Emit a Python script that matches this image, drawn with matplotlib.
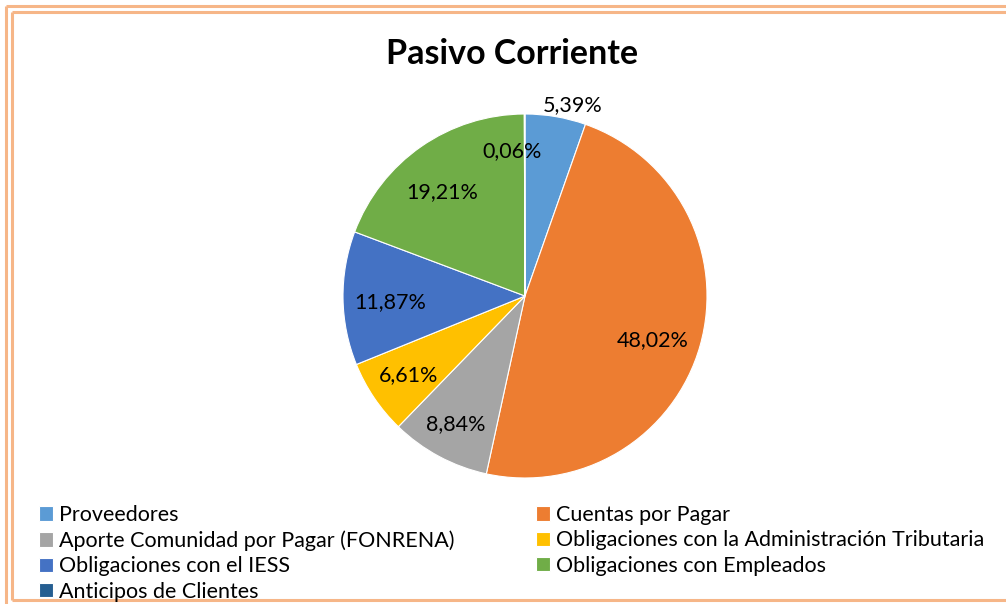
import matplotlib.pyplot as plt
from matplotlib.lines import Line2D
import numpy as np

# Daten
categorias = ["Proveedores", "Cuentas por Pagar", "Aporte Comunidad por Pagar (FONRENA)",
              "Obligaciones con la Administración Tributaria", "Obligaciones con el IESS",
              "Obligaciones con Empleados", "Anticipos de Clientes"]
valores = [5.39, 48.02, 8.84, 6.61, 11.87, 19.21, 0.06]
etiquetas = ["5,39%", "48,02%", "8,84%", "6,61%", "11,87%", "19,21%", "0,06%"]
colores = ["#5B9BD5", "#ED7D31", "#A5A5A5", "#FFC000", "#4472C4", "#70AD47", "#255E91"]
# Lage der Beschriftungen: Abstand (Anteil des Radius) und Winkelversatz im Uhrzeigersinn
dist_etiquetas = [1.08, 0.74, 0.80, 0.775, 0.74, 0.73, 0.80]
versatz_grad = [4.4, 3.3, 0.0, 0.0, -1.8, -3.8, -5.0]

plt.rcParams['font.family'] = ['Lato', 'DejaVu Sans']

W, H = 1006, 604
fig = plt.figure(figsize=(W / 100, H / 100), dpi=100)

# Kreis: Mittelpunkt (525, 296) px, Radius 182 px
cx, cy, r = 525, 296, 182
ax = fig.add_axes([(cx - r) / W, (H - cy - r) / H, 2 * r / W, 2 * r / H])
wedges, _ = ax.pie(valores, colors=colores, startangle=90, counterclock=False,
                   wedgeprops=dict(edgecolor="white", linewidth=0.8))
ax.set_xlim(-1, 1)
ax.set_ylim(-1, 1)
ax.set_aspect("equal")
ax.axis("off")

for w, txt, d, v in zip(wedges, etiquetas, dist_etiquetas, versatz_grad):
    ang = np.deg2rad((w.theta1 + w.theta2) / 2 - v)
    ax.text(d * np.cos(ang), d * np.sin(ang), txt, ha="center", va="center",
            fontsize=15.5, color="#000000")

fig.text(512 / W, 1 - 54 / H, "Pasivo Corriente", ha="center", va="center",
         fontsize=24.5, fontweight="bold")

# Legende, zeilenweise wie im Original
orden = [0, 2, 4, 6, 1, 3, 5]
fig.legend([wedges[i] for i in orden], [categorias[i] for i in orden],
           loc="upper left", bbox_to_anchor=(39 / W, 1 - 505 / H), ncol=2,
           frameon=False, fontsize=15.5, handlelength=0.65, handleheight=0.65,
           handletextpad=0.3, labelspacing=0.25, columnspacing=3.75,
           borderaxespad=0, borderpad=0)

# doppelter Rahmen
borde = "#F6B688"
def linea(x0, y0, x1, y1):
    fig.add_artist(Line2D([x0 / W, x1 / W], [1 - y0 / H, 1 - y1 / H],
                          transform=fig.transFigure, color=borde, linewidth=2.2,
                          solid_capstyle="butt"))
linea(6, 6, W, 6)
linea(6, 6, 6, H)
linea(12, 12, W, 12)
linea(12, 12, 12, 600)
linea(12, 600, W, 600)

fig.savefig("out.png", dpi=100)
